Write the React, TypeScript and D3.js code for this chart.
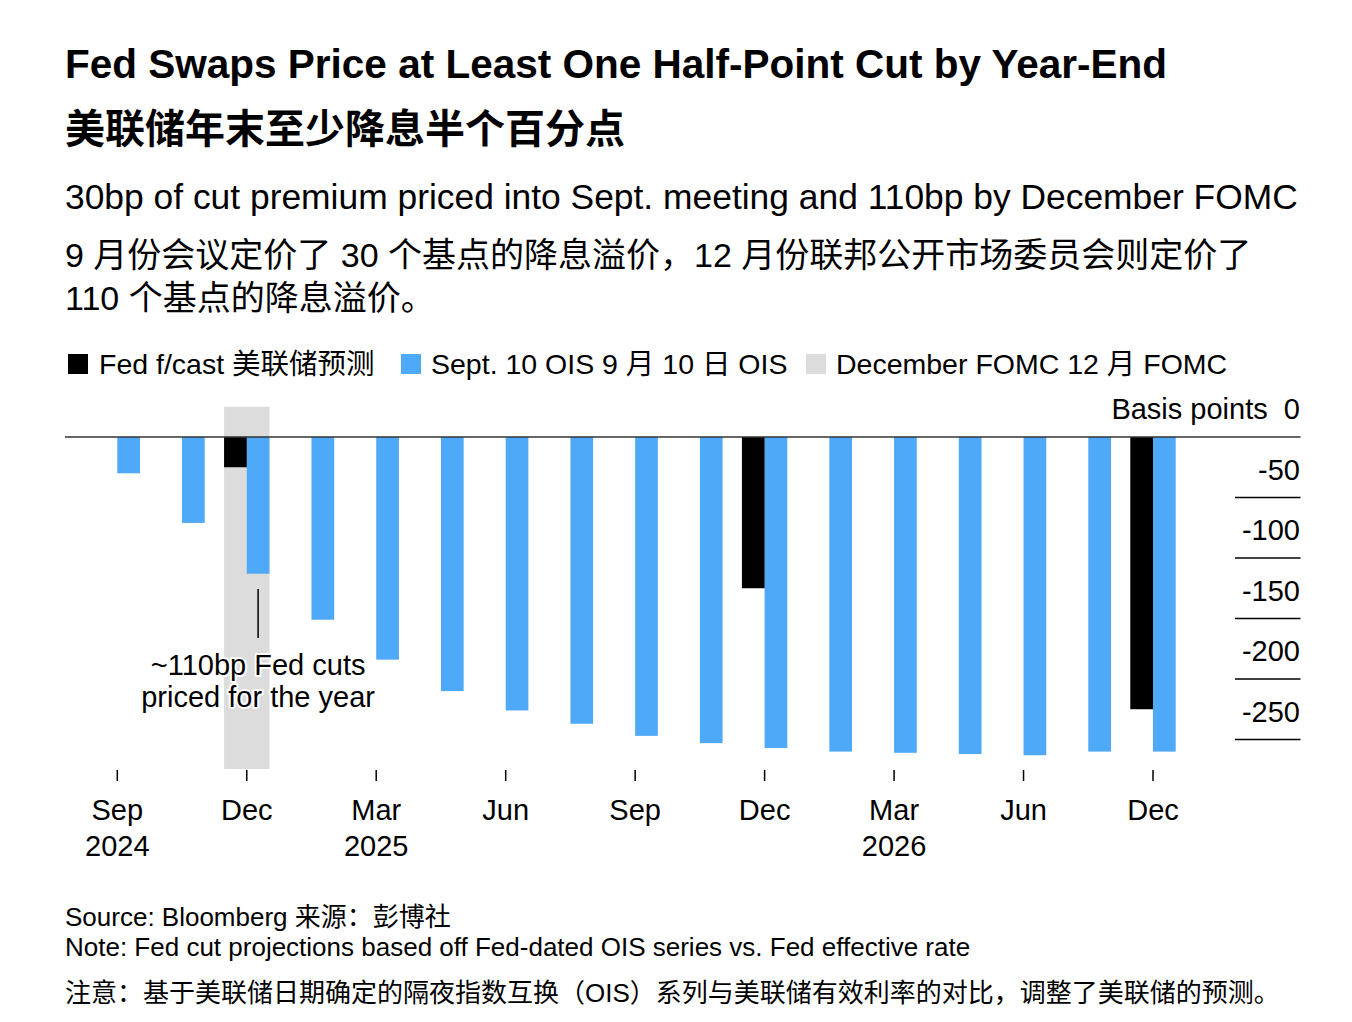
import React from "react";
import * as d3 from "d3";

const meetings = ["Sep24","Nov24","Dec24","Jan25","Mar25","May25","Jun25","Jul25","Sep25","Oct25","Dec25","Jan26","Mar26","Apr26","Jun26","Jul26","Dec26"];
const oisValues = [-30, -71, -113, -151, -184, -210, -226, -237, -247, -253, -257, -260, -261, -262, -263, -260, -260];
const fedForecast: { meeting: string; value: number }[] = [
  { meeting: "Dec24", value: -25 },
  { meeting: "Dec25", value: -125 },
  { meeting: "Dec26", value: -225 },
];
const highlightMeeting = "Dec24";
const tickMeetings = ["Sep24","Dec24","Mar25","Jun25","Sep25","Dec25","Mar26","Jun26","Dec26"];
const tickMonths = ["Sep","Dec","Mar","Jun","Sep","Dec","Mar","Jun","Dec"];
const tickYears = ["2024","","2025","","","","2026","",""];
const yTicks = [0, -50, -100, -150, -200, -250];

const BLUE = "#4ea9f8";
const GRAY = "#dcdcdc";
const FONT = "'Liberation Sans', Arial, Helvetica, sans-serif";
const CJK = "'Liberation Sans', 'Noto Sans CJK SC', sans-serif";

export default function App() {
  const x = d3.scalePoint<string>().domain(meetings).range([117.3, 1153]);
  const y = d3.scaleLinear().domain([0, -250]).range([437, 739.5]);
  const bw = 22.7;
  const hx = x(highlightMeeting)!;
  const AX = 29;

  return (
    <svg width={1352} height={1022} style={{ position: "absolute", left: 0, top: 0, background: "#fff" }}>
      <rect x={0} y={0} width={1352} height={1022} fill="#fff" />
      <text x={65} y={78} fontFamily={FONT} fontWeight="bold" fontSize={40.5} fill="#000">
        Fed Swaps Price at Least One Half-Point Cut by Year-End
      </text>
      <text x={65} y={143} fontFamily="'Noto Sans CJK SC', sans-serif" fontWeight="bold" fontSize={40} fill="#000">
        美联储年末至少降息半个百分点
      </text>
      <text x={65} y={209} fontFamily={FONT} fontSize={35.4} fill="#000">
        30bp of cut premium priced into Sept. meeting and 110bp by December FOMC
      </text>
      <text x={65} y={267} fontFamily={CJK} fontSize={34} fill="#000">
        9 月份会议定价了 30 个基点的降息溢价，12 月份联邦公开市场委员会则定价了
      </text>
      <text x={65} y={310} fontFamily={CJK} fontSize={34} fill="#000">
        110 个基点的降息溢价。
      </text>

      {/* legend */}
      <rect x={68} y={354} width={20} height={20} fill="#000" />
      <text x={99} y={374} fontFamily={CJK} fontSize={28.5} fill="#000">Fed f/cast 美联储预测</text>
      <rect x={401} y={354} width={20} height={20} fill={BLUE} />
      <text x={431} y={374} fontFamily={CJK} fontSize={28.5} fill="#000">Sept. 10 OIS 9 月 10 日 OIS</text>
      <rect x={806} y={354} width={20} height={20} fill={GRAY} />
      <text x={836} y={374} fontFamily={CJK} fontSize={28.5} fill="#000">December FOMC 12 月 FOMC</text>

      {/* highlight band */}
      <rect x={hx - bw} y={406.7} width={bw * 2} height={769 - 406.7} fill={GRAY} />

      {/* y gridlines & labels */}
      {yTicks.map((t) => (
        <g key={t}>
          {t !== 0 && <line x1={1235} x2={1300.5} y1={y(t)} y2={y(t)} stroke="#000" strokeWidth={1.4} />}
          <text x={1300} y={y(t) - 18} textAnchor="end" fontFamily={FONT} fontSize={AX} fill="#000">
            {t === 0 ? "Basis points\u00a0\u00a00" : String(t)}
          </text>
        </g>
      ))}

      {/* bars */}
      {meetings.map((m, i) => (
        <rect key={m} x={x(m)!} y={y(0)} width={bw} height={y(oisValues[i]) - y(0)} fill={BLUE} />
      ))}
      {fedForecast.map((d) => (
        <rect key={d.meeting} x={x(d.meeting)! - bw} y={y(0)} width={bw} height={y(d.value) - y(0)} fill="#000" />
      ))}

      {/* zero line */}
      <line x1={65} x2={1300.5} y1={y(0)} y2={y(0)} stroke="#333" strokeWidth={1.6} />

      {/* annotation */}
      <line x1={hx + bw / 2} x2={hx + bw / 2} y1={589} y2={638} stroke="#000" strokeWidth={1.5} />
      <g fontFamily={FONT} fontSize={AX} textAnchor="middle">
        <text x={hx + bw / 2} y={675} stroke="#fff" strokeWidth={4} strokeLinejoin="round" fill="#fff">~110bp Fed cuts</text>
        <text x={hx + bw / 2} y={707} stroke="#fff" strokeWidth={4} strokeLinejoin="round" fill="#fff">priced for the year</text>
        <text x={hx + bw / 2} y={675} fill="#000">~110bp Fed cuts</text>
        <text x={hx + bw / 2} y={707} fill="#000">priced for the year</text>
      </g>

      {/* x axis ticks */}
      {tickMeetings.map((m, i) => (
        <g key={m + i}>
          <line x1={x(m)!} x2={x(m)!} y1={770} y2={781} stroke="#000" strokeWidth={1.5} />
          <text x={x(m)!} y={820} textAnchor="middle" fontFamily={FONT} fontSize={AX} fill="#000">{tickMonths[i]}</text>
          {tickYears[i] && (
            <text x={x(m)!} y={856} textAnchor="middle" fontFamily={FONT} fontSize={AX} fill="#000">{tickYears[i]}</text>
          )}
        </g>
      ))}

      {/* footer */}
      <text x={65} y={926} fontFamily={CJK} fontSize={26} fill="#000">Source: Bloomberg 来源：彭博社</text>
      <text x={65} y={956} fontFamily={FONT} fontSize={26} fill="#000">Note: Fed cut projections based off Fed-dated OIS series vs. Fed effective rate</text>
      <text x={65} y={1002} fontFamily={CJK} fontSize={26} fill="#000">注意：基于美联储日期确定的隔夜指数互换（OIS）系列与美联储有效利率的对比，调整了美联储的预测。</text>
    </svg>
  );
}
